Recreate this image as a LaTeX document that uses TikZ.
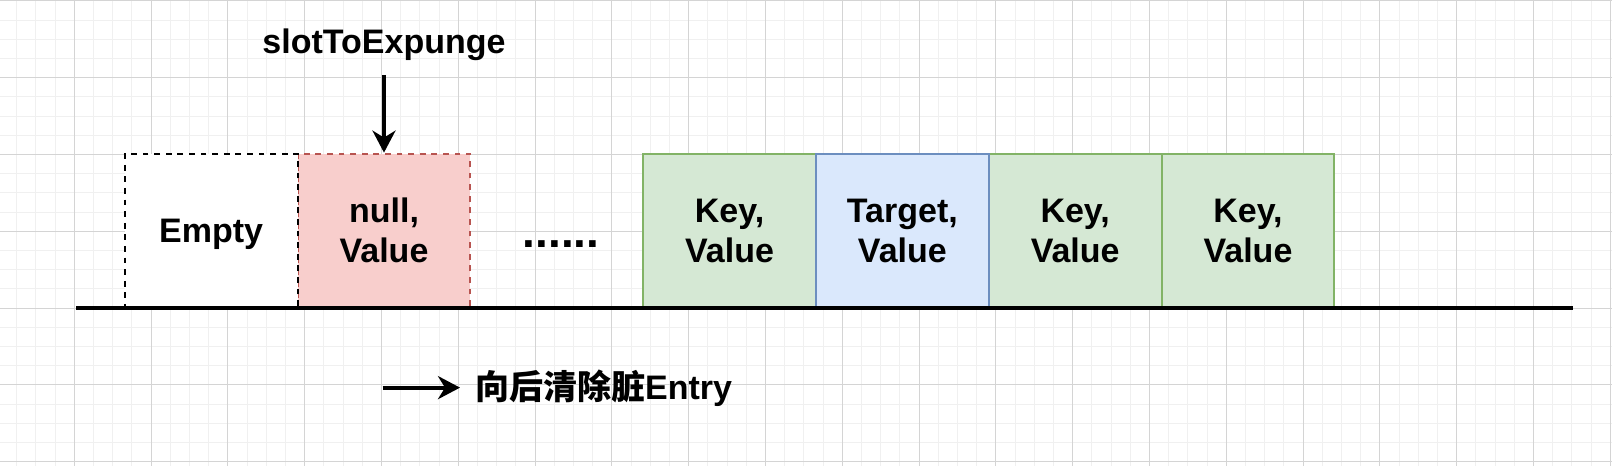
\documentclass[tikz,border=0pt]{standalone}
\usepackage{fontspec}
\setmainfont{Liberation Sans}
\newfontfamily\cjk{Noto Sans CJK SC}
\usetikzlibrary{arrows.meta}
\definecolor{redfill}{HTML}{F8CECC}
\definecolor{redline}{HTML}{B85450}
\definecolor{greenfill}{HTML}{D5E8D4}
\definecolor{greenline}{HTML}{82B366}
\definecolor{bluefill}{HTML}{DAE8FC}
\definecolor{blueline}{HTML}{6C8EBF}
\definecolor{minorline}{HTML}{F0F0F0}
\definecolor{majorline}{HTML}{D4D4D4}

\begin{document}
\begin{tikzpicture}[x=0.96pt,y=-0.96pt,
  minorgrid/.style={minorline,line width=0.5pt},
  majorgrid/.style={majorline,line width=0.5pt},
  slot/.style={minimum width=86.4pt,minimum height=76.8pt,inner sep=0pt,
    align=center,text depth=0pt,line width=0.96pt,
    font=\bfseries\fontsize{17}{20}\selectfont},
  emptyslot/.style={slot,draw=black,fill=white,dash pattern=on 2.9pt off 2.9pt},
  nullslot/.style={slot,draw=redline,fill=redfill,dash pattern=on 2.9pt off 2.9pt},
  keyslot/.style={slot,draw=greenline,fill=greenfill},
  targetslot/.style={slot,draw=blueline,fill=bluefill},
  label/.style={inner sep=0pt,font=\bfseries\fontsize{17}{20}\selectfont},
  pointer/.style={line width=1.92pt,-{Stealth[length=11pt,width=11.5pt,inset=3.5pt]}}]
\useasboundingbox (0,0) rectangle (839.6,242.7);
\fill[white] (0,0) rectangle (839.6,242.7);
% grid
\foreach \k in {0,...,84}
  \draw[minorgrid] ({-1.3+10*\k},0) -- ++(0,242.7);
\foreach \k in {0,...,24}
  \draw[minorgrid] (0,{0.5+10*\k}) -- ++(839.6,0);
\foreach \k in {0,...,21}
  \draw[majorgrid] ({-1.3+40*\k},0) -- ++(0,242.7);
\foreach \k in {0,...,6}
  \draw[majorgrid] (0,{0.5+40*\k}) -- ++(839.6,0);
% slots
\node[nullslot] (null) at (200,120) {null,\\Value};
\node[emptyslot] (empty) at (110,120) {Empty};
\node[label,font=\bfseries\fontsize{23}{26}\selectfont,anchor=base] (gap) at (292.2,129) {......};
\node[keyslot] (key1) at (380,120) {Key,\\Value};
\node[keyslot] (key2) at (560,120) {Key,\\Value};
\node[keyslot] (key3) at (650,120) {Key,\\Value};
\node[targetslot] (target) at (470,120) {Target,\\Value};
% table line
\coordinate (lineL) at (39.6,160.4);
\coordinate (lineR) at (819.3,160.4);
\draw[line width=1.92pt] (lineL) -- (lineR);
% pointer
\node[label,anchor=base] (slot) at (200,27.8) {slotToExpunge};
\coordinate (slotfoot) at (200,39);
\draw[pointer] (slotfoot) -- (null.north);
% legend
\coordinate (dirL) at (199.3,201.9);
\coordinate (dirR) at (239.6,201.9);
\draw[pointer] (dirL) -- (dirR);
\node[label,anchor=base west] (legend) at (247.3,208.3) {{\cjk 向后清除脏}Entry};
\end{tikzpicture}
\end{document}
